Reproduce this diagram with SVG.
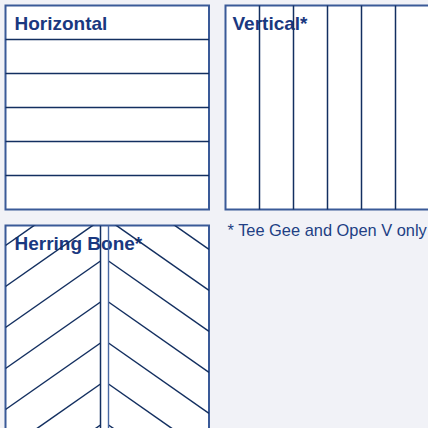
<svg xmlns="http://www.w3.org/2000/svg" width="428" height="428" viewBox="0 0 428 428">
  <defs>
    <style>
      .frame { fill: #ffffff; stroke: #3a5a98; stroke-width: 2; }
      .ln { stroke: #132f60; stroke-width: 1.5; fill: none; }
      .title { font-family: "Liberation Sans", Arial, sans-serif; font-weight: bold; font-size: 19px; fill: #1a3880; }
      .note { font-family: "Liberation Sans", Arial, sans-serif; font-size: 16.4px; fill: #213f84; }
    </style>
    <clipPath id="hbClip">
      <rect x="5.5" y="225.5" width="203.5" height="210"/>
    </clipPath>
  </defs>
  <rect x="0" y="0" width="428" height="428" fill="#f1f2f7"/>

  <g id="horizontal">
    <rect class="frame" x="5.5" y="5.5" width="203.5" height="204"/>
    <text class="title" x="14.5" y="30">Horizontal</text>
    <g class="ln">
      <line x1="5.5" y1="39.5" x2="209" y2="39.5"/>
      <line x1="5.5" y1="73.5" x2="209" y2="73.5"/>
      <line x1="5.5" y1="107.5" x2="209" y2="107.5"/>
      <line x1="5.5" y1="141.5" x2="209" y2="141.5"/>
      <line x1="5.5" y1="175.5" x2="209" y2="175.5"/>
    </g>
  </g>

  <g id="vertical">
    <rect class="frame" x="225.5" y="5.5" width="220" height="204"/>
    <text class="title" x="232.5" y="30">Vertical*</text>
    <g class="ln">
      <line x1="259.5" y1="5.5" x2="259.5" y2="209.5"/>
      <line x1="293.5" y1="5.5" x2="293.5" y2="209.5"/>
      <line x1="327.5" y1="5.5" x2="327.5" y2="209.5"/>
      <line x1="361.5" y1="5.5" x2="361.5" y2="209.5"/>
      <line x1="395.5" y1="5.5" x2="395.5" y2="209.5"/>
    </g>
  </g>

  <g id="herring-bone">
    <rect class="frame" x="5.5" y="225.5" width="203.5" height="220"/>
    <text class="title" x="14.5" y="250">Herring Bone*</text>
    <g class="ln" clip-path="url(#hbClip)">
      <line x1="5.5" y1="245.5" x2="100.5" y2="179"/>
      <line x1="5.5" y1="286.5" x2="100.5" y2="220"/>
      <line x1="5.5" y1="327.5" x2="100.5" y2="261"/>
      <line x1="5.5" y1="368.5" x2="100.5" y2="302"/>
      <line x1="5.5" y1="409.5" x2="100.5" y2="343"/>
      <line x1="5.5" y1="450.5" x2="100.5" y2="384"/>
      <line x1="5.5" y1="491.5" x2="100.5" y2="425"/>
      <line x1="108.5" y1="179" x2="209" y2="249.4"/>
      <line x1="108.5" y1="220" x2="209" y2="290.4"/>
      <line x1="108.5" y1="261" x2="209" y2="331.4"/>
      <line x1="108.5" y1="302" x2="209" y2="372.4"/>
      <line x1="108.5" y1="343" x2="209" y2="413.4"/>
      <line x1="108.5" y1="384" x2="209" y2="454.4"/>
      <line x1="108.5" y1="425" x2="209" y2="495.4"/>
      <line x1="100.5" y1="225.5" x2="100.5" y2="428"/>
    </g>
    <line x1="108.5" y1="225.5" x2="108.5" y2="428" stroke="#4a69a3" stroke-width="1.4"/>
  </g>

  <g id="footnote">
    <text class="note" x="227.5" y="236">* Tee Gee and Open V only</text>
  </g>
</svg>
